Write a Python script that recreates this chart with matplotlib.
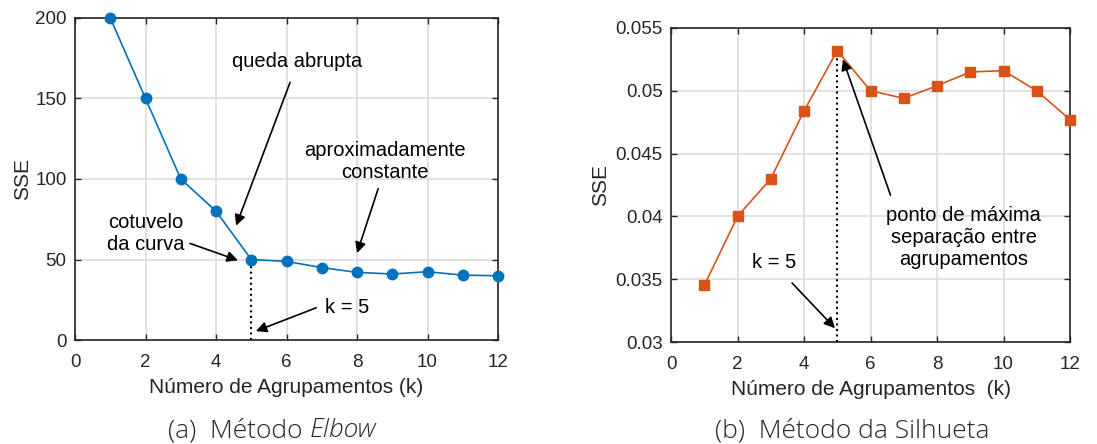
import matplotlib.pyplot as plt

plt.rcParams['font.family'] = ['Liberation Sans', 'DejaVu Sans']

# dados
k_vals = [1, 2, 3, 4, 5, 6, 7, 8, 9, 10, 11, 12]
sse_elbow = [200, 150, 100, 80, 50, 48.8, 45, 42, 41, 42.4, 40.3, 39.9]
sse_silh = [0.0345, 0.0400, 0.0430, 0.0484, 0.0532, 0.0500, 0.0494,
            0.0504, 0.0515, 0.0516, 0.0500, 0.0477]
x_ticks = [0, 2, 4, 6, 8, 10, 12]
y_ticks_a = [0, 50, 100, 150, 200]
y_ticks_b = [0.03, 0.035, 0.04, 0.045, 0.05, 0.055]
y_labels_b = ['0.03', '0.035', '0.04', '0.045', '0.05', '0.055']

blue = '#0072BD'
orange = '#D95319'
dark = '#262626'

fig = plt.figure(figsize=(10.97, 4.44), dpi=100)
ax1 = fig.add_axes([0.0684, 0.2342, 0.3856, 0.7253])
ax2 = fig.add_axes([0.6117, 0.2297, 0.3637, 0.7073])


def style(ax):
    ax.grid(True, color='#dcdcdc', linewidth=1.2)
    ax.set_axisbelow(True)
    ax.tick_params(direction='in', top=True, right=True, length=4,
                   width=1, colors=dark, labelsize=13.5, pad=6)
    ax.tick_params(axis='x', pad=10)
    for s in ax.spines.values():
        s.set_color(dark)
        s.set_linewidth(1.2)


arrow = dict(arrowstyle='-|>', color='black', lw=1.2, mutation_scale=16,
             shrinkA=0, shrinkB=0)
fs = 14.5

# (a) Elbow
ax1.plot(k_vals, sse_elbow, '-o', color=blue, lw=1.2, ms=7.5, clip_on=False, zorder=3)
ax1.plot([5, 5], [0, sse_elbow[4]], ':', color='black', lw=1.5)
ax1.set_xlim(0, 12)
ax1.set_ylim(0, 200)
ax1.set_xticks(x_ticks)
ax1.set_yticks(y_ticks_a)
ax1.set_xlabel('Número de Agrupamentos (k)', fontsize=15, color=dark, labelpad=5)
ax1.set_ylabel('SSE', fontsize=15, color=dark, labelpad=2)
style(ax1)

ax1.text(6.3, 173, 'queda abrupta', ha='center', va='center', fontsize=fs)
ax1.annotate('', xy=(4.57, 71), xytext=(6.1, 160), arrowprops=arrow)
ax1.text(8.8, 111, 'aproximadamente\nconstante', ha='center', va='center',
         fontsize=fs, linespacing=1.2)
ax1.annotate('', xy=(8.0, 54), xytext=(8.6, 94), arrowprops=arrow)
ax1.text(2.0, 66, 'cotuvelo\nda curva', ha='center', va='center',
         fontsize=fs, linespacing=1.2)
ax1.annotate('', xy=(4.62, 49.5), xytext=(3.26, 60), arrowprops=arrow)
ax1.text(7.1, 20.5, 'k = 5', ha='left', va='center', fontsize=fs)
ax1.annotate('', xy=(5.13, 5.5), xytext=(6.84, 20), arrowprops=arrow)

# (b) Silhueta
ax2.plot(k_vals, sse_silh, '-s', color=orange, lw=1.2, ms=6.5, clip_on=False, zorder=3)
ax2.plot([5, 5], [0.03, sse_silh[4]], ':', color='black', lw=1.5)
ax2.set_xlim(0, 12)
ax2.set_ylim(0.03, 0.055)
ax2.set_xticks(x_ticks)
ax2.set_yticks(y_ticks_b)
ax2.set_yticklabels(y_labels_b)
ax2.set_xlabel('Número de Agrupamentos  (k)', fontsize=15, color=dark, labelpad=5)
ax2.set_ylabel('SSE', fontsize=15, color=dark, labelpad=4)
style(ax2)

ax2.text(8.8, 0.0383, 'ponto de máxima\nseparação entre\nagrupamentos',
         ha='center', va='center', fontsize=fs, linespacing=1.2)
ax2.annotate('', xy=(5.17, 0.0525), xytext=(6.6, 0.0417), arrowprops=arrow)
ax2.text(2.45, 0.0363, 'k = 5', ha='left', va='center', fontsize=fs)
ax2.annotate('', xy=(4.93, 0.0311), xytext=(3.64, 0.0347), arrowprops=arrow)

# legendas das figuras
cap = dict(fontsize=19, family=['Open Sans', 'DejaVu Sans'], fontweight='light', color=dark)
fig.text(0.282, 0.03, '(a)  Método ', ha='right', va='center', **cap)
fig.text(0.282, 0.03, 'Elbow', ha='left', va='center', style='italic', **cap)
fig.text(0.777, 0.03, '(b)  Método da Silhueta', ha='center', va='center', **cap)

fig.savefig('out.png', dpi=100)
